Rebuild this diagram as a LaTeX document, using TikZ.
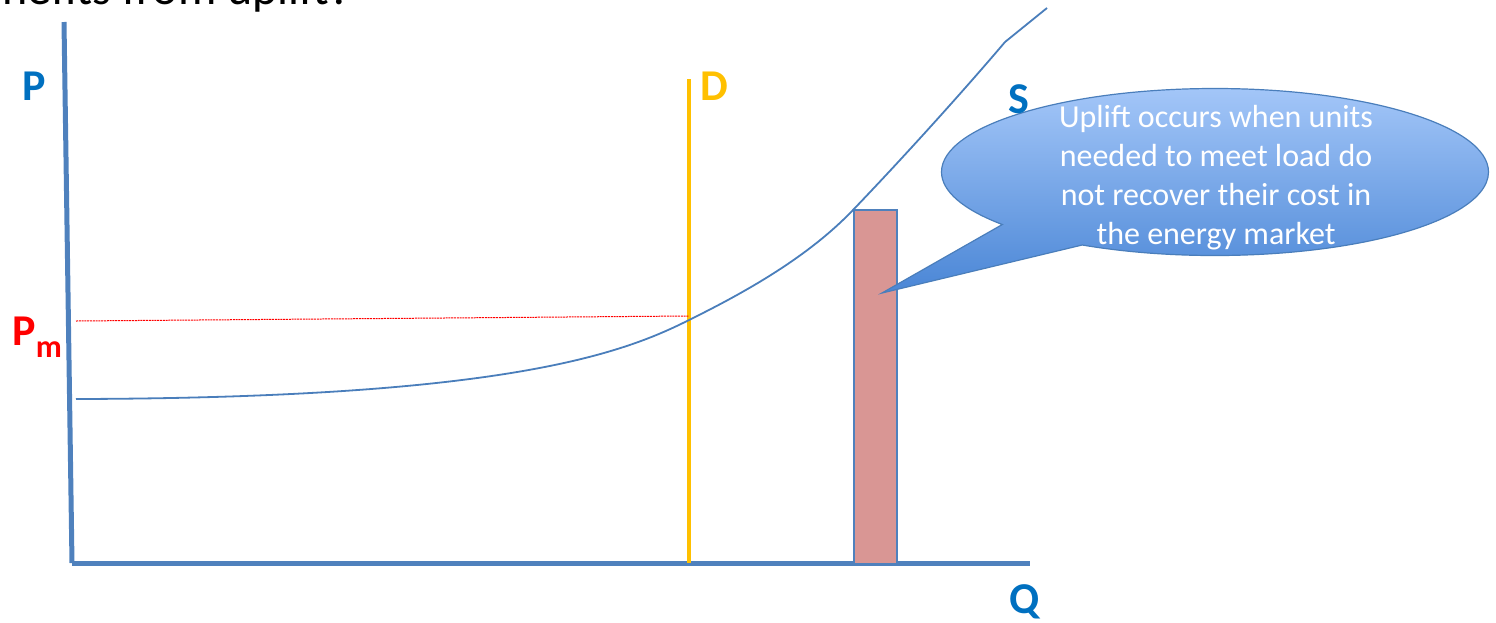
\documentclass[tikz,border=0pt]{standalone}
\usepackage{fontspec}
\setmainfont{Carlito}
\usetikzlibrary{shapes.callouts}
\definecolor{axisblue}{HTML}{4F81BD}
\definecolor{curveblue}{HTML}{4A7EBB}
\definecolor{labelblue}{HTML}{0070C0}
\definecolor{dgold}{HTML}{FFC000}
\definecolor{barfill}{HTML}{D99694}
\definecolor{calltop}{HTML}{A3C6F8}
\definecolor{callbot}{HTML}{4A86D6}
\begin{document}
\begin{tikzpicture}[x=0.5pt,y=-0.5pt,
  axis/.style={draw=axisblue,line width=2.5pt},
  biglabel/.style={anchor=base west,inner sep=0,font=\fontsize{22}{26}\selectfont\bfseries},
  supply/.style={draw=curveblue,line width=0.9pt},
  demand/.style={draw=dgold,line width=2pt},
  pmline/.style={draw=red,line width=0.5pt,dash pattern=on 1pt off 0.4pt},
  bubble/.style={ellipse callout,draw=curveblue,line width=0.6pt,top color=calltop,bottom color=callbot,
     minimum width=273.5pt,minimum height=83.5pt,inner sep=0,callout pointer arc=22},
  bubbletext/.style={text=white,align=center,inner sep=0,font=\fontsize{16}{19.5}\selectfont}]
\useasboundingbox (0,0) rectangle (1496,622);
% title (mostly cut off)
\node[anchor=base east,inner sep=0,font=\fontsize{24}{28}\selectfont] (title) at (352,4) {Who benefits from uplift?};
% axes
\coordinate (ytop) at (64,22);
\coordinate (origin) at (72,563);
\coordinate (xend) at (1030,563);
\draw[axis] (ytop) -- (origin);
\draw[axis] (origin) -- (xend);
% uplift bar
\node[draw=axisblue,line width=1pt,fill=barfill,inner sep=0,anchor=north west,minimum width=21.5pt,minimum height=177pt] (bar) at (853,209) {};
% demand
\coordinate (dtop) at (689,79);
\coordinate (dbot) at (689,563);
\draw[demand] (dtop) -- (dbot);
% price line
\coordinate (pmstart) at (76,321);
\coordinate (pmend) at (689,316);
\draw[pmline] (pmstart) -- (pmend);
% supply curve
\coordinate (s0) at (76,399);
\coordinate (s1) at (689,320);
\coordinate (s2) at (853,210);
\coordinate (s3) at (1005,42);
\coordinate (s4) at (1047,8);
\draw[supply] (s0) .. controls (500,398) and (620,355) .. (s1)
  .. controls (750,290) and (810,255) .. (s2)
  .. controls (900,161) and (960,95) .. (s3) -- (s4);
% callout
\coordinate (tip) at (882,293);
\node[bubble,callout absolute pointer={(tip)}] (note) at (1215,172) {};
\node[bubbletext] (notetext) at (1216,178) {Uplift occurs when units\\needed to meet load do\\not recover their cost in\\the energy market};
% labels
\node[biglabel,text=labelblue] (plab) at (22,100) {P};
\node[biglabel,text=dgold] (dlab) at (700,100) {D};
\node[biglabel,text=labelblue] (slab) at (1008,113) {S};
\node[biglabel,text=labelblue] (qlab) at (1009,613) {Q};
\node[biglabel,text=red] (pmlab) at (12,345) {P\raisebox{-6pt}{\fontsize{16}{16}\selectfont m}};
\end{tikzpicture}
\end{document}
